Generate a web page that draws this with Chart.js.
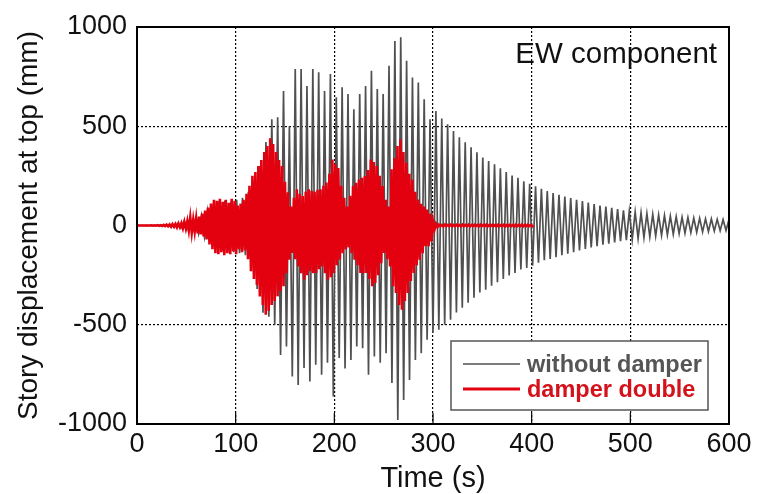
<!DOCTYPE html>
<html>
<head>
<meta charset="utf-8">
<script src="https://cdn.jsdelivr.net/npm/chart.js@4"></script>
<style>
  html, body { margin: 0; padding: 0; background: #fff; }
</style>
</head>
<body>
<canvas id="chart" width="758" height="494"></canvas>
<script>
// time axis / value axis ticks
const timeTicks = [0, 100, 200, 300, 400, 500, 600];
const dispTicks = [-1000, -500, 0, 500, 1000];

// without damper: alternating peaks/troughs (mm), sampled every half cycle
const noDamperT0 = 0;
const noDamperStep = 2.97;
const noDamperVals = [
  0, 0, 0, 0, 0, 0, 0, 0, 1, -1,
  2, -3, 5, -6, 10, -12, 18, -20, 30, -28,
  35, -40, 50, -55, 70, -80, 100, -110, 120, -125,
  125, -130, 120, -135, 130, -140, 140, -150, 170, -200,
  230, -320, 300, -440, 420, -460, 535, -500, 545, -652,
  678, -610, 500, -761, 788, -803, 788, -718, 703, -786,
  788, -702, 772, -752, 677, -692, 763, -862, 646, -668,
  697, -720, 662, -677, 586, -610, 662, -618, 703, -752,
  780, -660, 687, -692, 662, -643, 805, -794, 930, -980,
  948, -879, 830, -778, 746, -677, 720, -643, 636, -576,
  535, -540, 577, -525, 539, -500, 510, -475, 476, -438,
  444, -414, 419, -389, 394, -364, 369, -338, 343, -323,
  325, -303, 308, -286, 288, -269, 269, -252, 252, -239,
  241, -222, 223, -214, 210, -202, 198, -188, 185, -175,
  173, -168, 163, -160, 155, -150, 146, -142, 138, -134,
  130, -126, 123, -118, 116, -111, 108, -104, 101, -97,
  95, -91, 89, -85, 83, -79, 77, -74, 72, -70,
  68, -65, 64, -61, 60, -57, 56, -53, 53, -50,
  50, -47, 47, -44, 45, -41, 42, -38, 40, -36,
  38, -34, 36, -32, 34, -30, 33, -28, 31, -26,
  30, -25, 29
];

// damper double: alternating peaks/troughs (mm)
const damperT0 = 0;
const damperStep = 1.5;
const damperVals = [
  0, 0, 0, 0, 0, 0, 0, 0, 0, 0,
  1, -1, 1, -1, 2, -2, 2, -2, 3, -3,
  4, -4, 5, -6, 7, -6, 8, -9, 10, -8,
  12, -14, 18, -15, 22, -25, 40, -35, 28, -30,
  35, -40, 45, -45, 60, -55, 75, -70, 90, -95,
  110, -120, 130, -140, 125, -145, 135, -135, 120, -150,
  130, -140, 115, -145, 135, -130, 125, -145, 100, -120,
  110, -135, 130, -125, 160, -170, 200, -230, 250, -270,
  270, -300, 300, -357, 330, -400, 370, -449, 400, -430,
  440, -400, 410, -380, 370, -357, 330, -330, 300, -306,
  220, -240, 167, -172, 96, -138, 140, -170, 182, -206,
  160, -240, 148, -273, 170, -250, 182, -230, 175, -240,
  170, -239, 180, -220, 182, -206, 200, -240, 217, -273,
  260, -260, 333, -240, 310, -200, 290, -172, 200, -140,
  140, -121, 96, -110, 150, -140, 199, -172, 215, -200,
  232, -239, 240, -240, 249, -239, 280, -270, 333, -306,
  320, -290, 300, -250, 250, -190, 199, -138, 130, -170,
  96, -206, 283, -306, 340, -340, 400, -400, 434, -424,
  370, -380, 316, -340, 260, -280, 232, -239, 170, -200,
  131, -172, 110, -140, 96, -104, 80, -104, 60, -80,
  20, -20, 8, -8, 4, -3, 3, -4, 4, -3,
  3, -3, 4, -4, 3, -3, 4, -3, 3, -4,
  4, -3, 3, -3, 4, -4, 3, -3, 4, -3,
  3, -4, 4, -3, 3, -3, 4, -4, 3, -3,
  4, -3, 3, -4, 4, -3, 3, -3, 4, -4,
  3, -3, 4, -3, 3, -4, 4, -3, 3, -3,
  4, -4, 3, -3, 4, -3, 3, -4, 0
];

const seriesNames = ['without damper', 'damper double'];
const annotation = 'EW component';

const FONT = "'Liberation Sans', Arial, sans-serif";

function toPoints(t0, dt, vals) {
  return vals.map((v, i) => ({ x: t0 + i * dt, y: v }));
}

// frame, inward ticks, legend box and label
const decor = {
  id: 'decor',
  afterDraw(chart) {
    const { ctx, chartArea: a, scales } = chart;
    ctx.save();
    // inward ticks on the bottom axis
    ctx.strokeStyle = '#000';
    ctx.lineWidth = 1.2;
    timeTicks.forEach(t => {
      const x = scales.x.getPixelForValue(t);
      ctx.beginPath();
      ctx.moveTo(x, a.bottom);
      ctx.lineTo(x, a.bottom - 11);
      ctx.stroke();
    });
    // frame
    ctx.lineWidth = 2;
    ctx.strokeRect(a.left, a.top, a.right - a.left, a.bottom - a.top);

    // label top right
    ctx.fillStyle = '#111';
    ctx.font = '29.5px ' + FONT;
    ctx.textAlign = 'right';
    ctx.textBaseline = 'alphabetic';
    ctx.fillText(annotation, a.right - 12, a.top + 36);

    // legend
    const bx = 451, by = 341, bw = 257, bh = 69;
    ctx.fillStyle = '#fff';
    ctx.fillRect(bx, by, bw, bh);
    ctx.strokeStyle = '#555';
    ctx.lineWidth = 1.5;
    ctx.strokeRect(bx, by, bw, bh);
    const ds = chart.data.datasets;
    const rows = [{ d: ds[0], w: 1.4, y: 364, ty: 372, tc: '#555' }, { d: ds[1], w: 3, y: 389, ty: 397, tc: '#d3121c' }];
    ctx.textAlign = 'left';
    ctx.font = 'bold 23.5px ' + FONT;
    rows.forEach(r => {
      ctx.strokeStyle = r.d.borderColor;
      ctx.lineWidth = r.w;
      ctx.beginPath();
      ctx.moveTo(463, r.y);
      ctx.lineTo(520, r.y);
      ctx.stroke();
      ctx.fillStyle = r.tc;
      ctx.fillText(r.d.label, 527, r.ty);
    });
    ctx.restore();
  }
};

const edgeT = [timeTicks[0], timeTicks[timeTicks.length - 1]];
const hideY = [dispTicks[0], 0, dispTicks[dispTicks.length - 1]];

new Chart(document.getElementById('chart'), {
  type: 'line',
  data: {
    datasets: [
      {
        label: seriesNames[0],
        data: toPoints(noDamperT0, noDamperStep, noDamperVals),
        borderColor: '#505050',
        borderWidth: 1.7,
        pointRadius: 0,
        order: 2
      },
      {
        label: seriesNames[1],
        data: toPoints(damperT0, damperStep, damperVals),
        borderColor: '#e3000f',
        borderWidth: 2.6,
        pointRadius: 0,
        order: 1
      }
    ]
  },
  options: {
    responsive: false,
    animation: false,
    parsing: false,
    layout: { padding: { left: 0, right: 29, top: 27, bottom: 0 } },
    plugins: { legend: { display: false }, tooltip: { enabled: false } },
    scales: {
      x: {
        type: 'linear',
        min: timeTicks[0],
        max: timeTicks[timeTicks.length - 1],
        z: 1,
        afterFit: s => { s.height = 70; },
        afterBuildTicks: s => { s.ticks = timeTicks.map(v => ({ value: v })); },
        grid: {
          drawTicks: false,
          lineWidth: 1.2,
          color: c => edgeT.includes(c.tick && c.tick.value) ? 'transparent' : '#000'
        },
        border: { display: false, dash: [2, 2] },
        ticks: {
          padding: 4,
          color: '#111',
          font: { family: FONT, size: 27 },
          maxRotation: 0,
          callback: v => String(v)
        },
        title: {
          display: true,
          text: 'Time (s)',
          color: '#111',
          font: { family: FONT, size: 29, lineHeight: 1 },
          padding: { top: 0, bottom: 1 }
        }
      },
      y: {
        type: 'linear',
        min: dispTicks[0],
        max: dispTicks[dispTicks.length - 1],
        z: 1,
        afterFit: s => { s.width = 137; },
        afterBuildTicks: s => { s.ticks = dispTicks.map(v => ({ value: v })); },
        grid: {
          drawTicks: false,
          lineWidth: 1.2,
          color: c => hideY.includes(c.tick && c.tick.value) ? 'transparent' : '#000'
        },
        border: { display: false, dash: [2, 2] },
        ticks: {
          padding: 10,
          color: '#111',
          font: { family: FONT, size: 27 },
          callback: v => String(v)
        },
        title: {
          display: true,
          text: 'Story displacement at top (mm)',
          color: '#111',
          font: { family: FONT, size: 28, lineHeight: 1 },
          padding: { top: 15, bottom: 0 }
        }
      }
    }
  },
  plugins: [decor]
});
</script>
</body>
</html>
